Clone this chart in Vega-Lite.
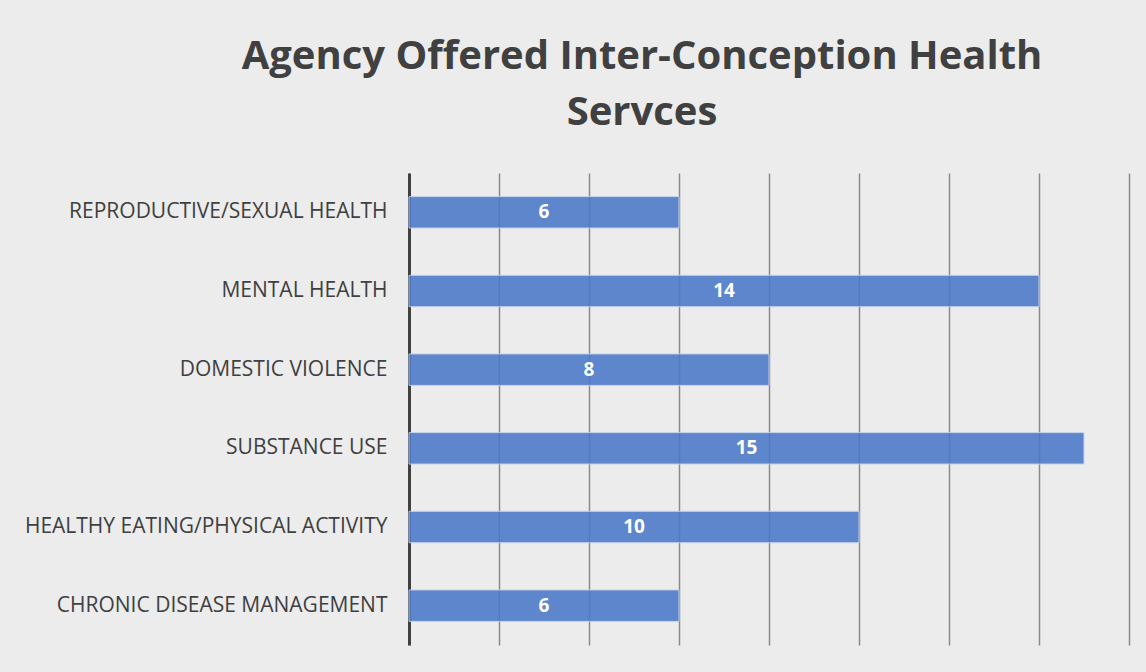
{
  "$schema": "https://vega.github.io/schema/vega-lite/v6.json",
  "autosize": {"type": "none"},
  "width": 720,
  "height": 472,
  "padding": {"left": 409, "top": 173, "right": 17, "bottom": 27},
  "background": "#ececec",
  "config": {"view": {"stroke": null}},
  "title": {
    "text": ["Agency Offered Inter-Conception Health", "Servces"],
    "font": "Open Sans",
    "fontSize": 40,
    "fontWeight": "bold",
    "color": "#404040",
    "anchor": "middle",
    "frame": "group",
    "dx": -127,
    "lineHeight": 56,
    "offset": 40
  },
  "data": {
    "values": [
      {"service": "REPRODUCTIVE/SEXUAL HEALTH", "count": 6},
      {"service": "MENTAL HEALTH", "count": 14},
      {"service": "DOMESTIC VIOLENCE", "count": 8},
      {"service": "SUBSTANCE USE", "count": 15},
      {"service": "HEALTHY EATING/PHYSICAL ACTIVITY", "count": 10},
      {"service": "CHRONIC DISEASE MANAGEMENT", "count": 6}
    ]
  },
  "encoding": {
    "y": {
      "field": "service",
      "type": "nominal",
      "sort": null,
      "scale": {"paddingInner": 0.6, "paddingOuter": 0.3},
      "axis": {
        "title": null,
        "ticks": false,
        "grid": false,
        "domainColor": "#404040",
        "domainWidth": 3,
        "labelFont": "Open Sans",
        "labelFontSize": 21,
        "labelColor": "#404040",
        "labelPadding": 22,
        "labelLimit": 400
      }
    }
  },
  "layer": [
    {
      "mark": {"type": "bar", "color": "#4a78c8", "opacity": 0.88, "stroke": "#c3d3ef", "strokeWidth": 1},
      "encoding": {
        "x": {
          "field": "count",
          "type": "quantitative",
          "scale": {"domain": [0, 16], "nice": false},
          "axis": {
            "title": null,
            "labels": false,
            "ticks": false,
            "domain": false,
            "grid": true,
            "values": [0, 2, 4, 6, 8, 10, 12, 14, 16],
            "gridColor": "#8a8a8a",
            "gridWidth": 1.5
          }
        }
      }
    },
    {
      "transform": [{"calculate": "datum.count / 2", "as": "mid"}],
      "mark": {"type": "text", "color": "white", "font": "Open Sans", "fontWeight": "bold", "fontSize": 19},
      "encoding": {
        "x": {"field": "mid", "type": "quantitative"},
        "text": {"field": "count", "type": "quantitative"}
      }
    }
  ]
}
